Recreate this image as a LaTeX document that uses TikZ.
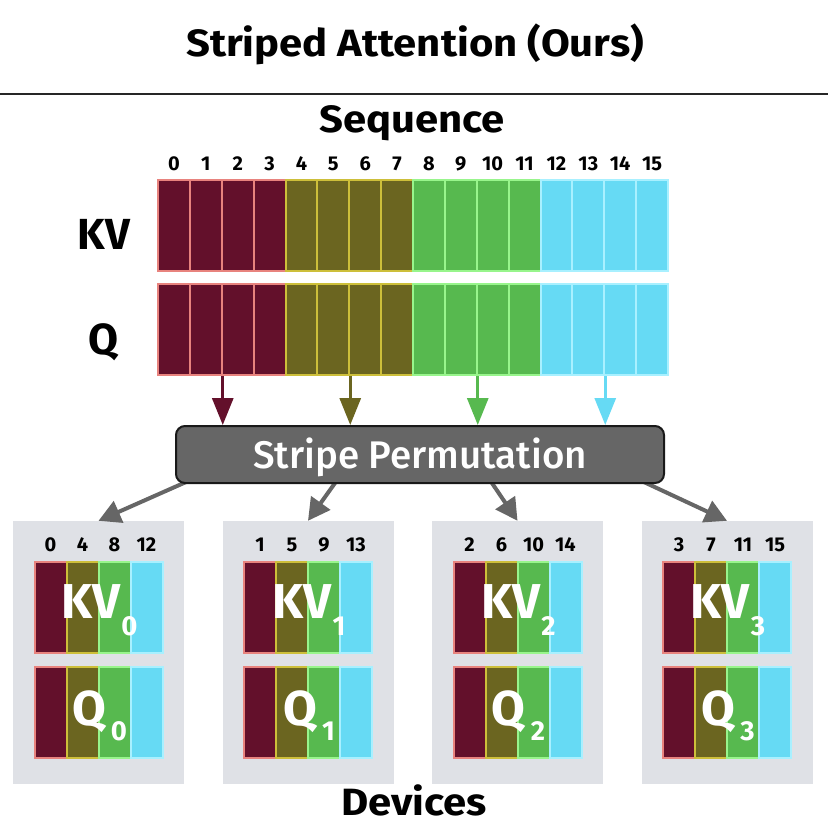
\documentclass[tikz,border=0pt]{standalone}
\usepackage{fontspec}
\setmainfont{Fira Sans}
\newfontfamily\medfont{Fira Sans Medium}
\newfontfamily\headfont[FakeStretch=1.1]{Fira Sans Bold}
\usetikzlibrary{arrows.meta}
\definecolor{gf0}{HTML}{63102B}
\definecolor{gd0}{HTML}{E8837E}
\definecolor{gf1}{HTML}{6B6520}
\definecolor{gd1}{HTML}{CDBF3A}
\definecolor{gf2}{HTML}{57B94F}
\definecolor{gd2}{HTML}{98F58C}
\definecolor{gf3}{HTML}{66DAF4}
\definecolor{gd3}{HTML}{A8F0FF}
\definecolor{permgray}{HTML}{666666}
\definecolor{devgray}{HTML}{DFE1E6}
\tikzset{
  cell/.style={draw, line width=2pt, minimum width=31.875pt, minimum height=91pt, inner sep=0pt},
  dcell/.style={draw, line width=2pt, minimum width=32pt, minimum height=91pt, inner sep=0pt},
  idx/.style={font=\bfseries\fontsize{20}{20}\selectfont, inner sep=0pt, anchor=base},
  headlbl/.style={font=\headfont\fontsize{38}{40}\selectfont, inner sep=0pt, anchor=base},
  rowlbl/.style={font=\bfseries\fontsize{43.5}{44}\selectfont, inner sep=0pt, anchor=base},
  biglbl/.style={font=\bfseries\fontsize{49}{49}\selectfont, text=white, inner sep=0pt, anchor=base},
  permbox/.style={draw=black!90, line width=2pt, fill=permgray, rounded corners=9pt,
    minimum width=488pt, minimum height=57pt, text height=27pt, text depth=0pt,
    inner sep=0pt, text=white, font=\medfont\fontsize{38.5}{40}\selectfont},
  devbox/.style={fill=devgray, minimum width=171pt, minimum height=263pt, inner sep=0pt},
  carr/.style={line width=3pt, -{Triangle[width=21pt,length=27pt]}},
  garr/.style={line width=4pt, draw=permgray, -{Triangle[width=23pt,length=22pt]}},
}
\newcommand{\subfnt}{\bfseries\fontsize{27.5}{27.5}\selectfont}
\begin{document}
\begin{tikzpicture}[x=1pt,y=-1pt]
\useasboundingbox (0,0) rectangle (828,832);
\fill[white] (0,0) rectangle (828,832);
% title
\node[headlbl] (title) at (415,57) {Striped Attention (Ours)};
\coordinate (ll) at (0,94);
\coordinate (lr) at (828,94);
\draw[line width=2.5pt, black!85] (ll) -- (lr);
\node[headlbl] (seq) at (412,132) {Sequence};
\node[rowlbl] (kvlabel) at (104,249) {KV};
\node[rowlbl] (qlabel) at (104,354) {Q};
% sequence cells
\foreach \k in {0,...,15}{
  \pgfmathtruncatemacro{\g}{\k/4}
  \node[idx] (n\k) at ({158+31.875*(\k+0.5)},170) {\k};
  \node[cell, fill=gf\g, draw=gd\g] (kv\k) at ({158+31.875*(\k+0.5)},225) {};
  \node[cell, fill=gf\g, draw=gd\g] (q\k) at ({158+31.875*(\k+0.5)},329.5) {};
}
% device boxes
\foreach \i in {0,...,3}{
  \pgfmathsetmacro{\cx}{98.5+209.5*\i}
  \node[devbox] (dev\i) at (\cx,652.5) {};
  \foreach \j in {0,...,3}{
    \pgfmathtruncatemacro{\v}{\i+4*\j}
    \node[idx] (dn\i\j) at ({\cx-48+32*\j},551) {\v};
    \node[dcell, fill=gf\j, draw=gd\j] (dkv\i\j) at ({\cx-48+32*\j},607.5) {};
    \node[dcell, fill=gf\j, draw=gd\j] (dq\i\j) at ({\cx-48+32*\j},712) {};
  }
  \node[biglbl] (kvl\i) at (\cx+1,618) {KV\kern1pt\raisebox{-17pt}{\subfnt \i}};
  \node[biglbl] (ql\i) at (\cx+1,725) {Q\kern5pt\raisebox{-15pt}{\subfnt \i}};
}
% gray arrows
\coordinate (o0) at (247,455);
\coordinate (o1) at (355,455);
\coordinate (o2) at (473,455);
\coordinate (o3) at (586,455);
\foreach \i in {0,...,3}{
  \draw[garr] (o\i) -- (dev\i.north);
}
% permutation box
\node[permbox] (perm) at (420,454.5) {Stripe Permutation};
% colored arrows
\foreach \k/\g in {1/0,5/1,9/2,13/3}{
  \draw[carr, draw=gf\g, fill=gf\g] (q\k.south east) -- (q\k.south east |- perm.north);
}
\node[headlbl] (devices) at (414,815) {Devices};
\end{tikzpicture}
\end{document}
